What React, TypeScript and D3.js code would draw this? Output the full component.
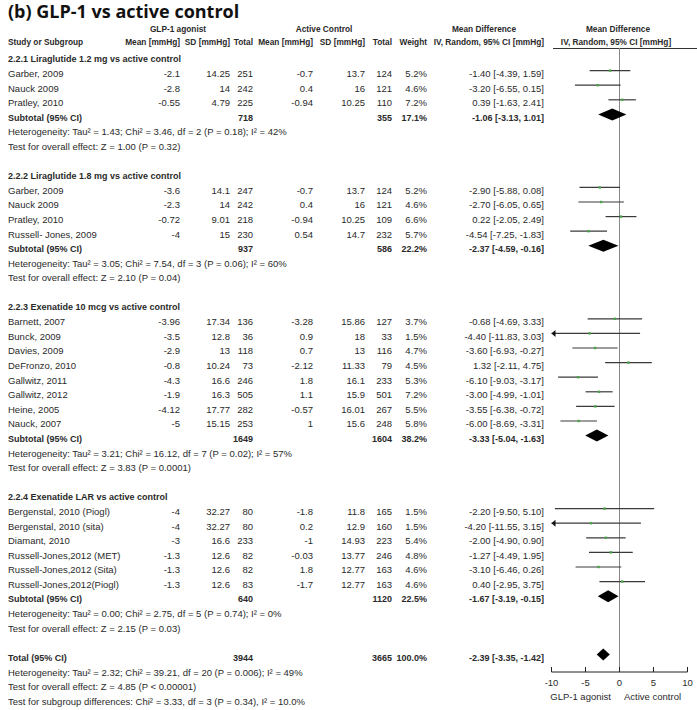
import * as d3 from "d3";
import { useEffect, useRef } from "react";

// study, GLP mean, GLP SD, GLP total, AC mean, AC SD, AC total, weight, MD, lo, hi
type Study = [string, number, number, number, number, number, number, number, number, number, number];

const sectionTitles = [
  "2.2.1 Liraglutide 1.2 mg vs active control",
  "2.2.2 Liraglutide 1.8 mg vs active control",
  "2.2.3 Exenatide 10 mcg vs active control",
  "2.2.4 Exenatide LAR vs active control",
];

const lira12: Study[] = [
  ["Garber, 2009", -2.1, 14.25, 251, -0.7, 13.7, 124, 5.2, -1.4, -4.39, 1.59],
  ["Nauck 2009", -2.8, 14, 242, 0.4, 16, 121, 4.6, -3.2, -6.55, 0.15],
  ["Pratley, 2010", -0.55, 4.79, 225, -0.94, 10.25, 110, 7.2, 0.39, -1.63, 2.41],
];

const lira18: Study[] = [
  ["Garber, 2009", -3.6, 14.1, 247, -0.7, 13.7, 124, 5.2, -2.9, -5.88, 0.08],
  ["Nauck 2009", -2.3, 14, 242, 0.4, 16, 121, 4.6, -2.7, -6.05, 0.65],
  ["Pratley, 2010", -0.72, 9.01, 218, -0.94, 10.25, 109, 6.6, 0.22, -2.05, 2.49],
  ["Russell- Jones, 2009", -4, 15, 230, 0.54, 14.7, 232, 5.7, -4.54, -7.25, -1.83],
];

const exe10: Study[] = [
  ["Barnett, 2007", -3.96, 17.34, 136, -3.28, 15.86, 127, 3.7, -0.68, -4.69, 3.33],
  ["Bunck, 2009", -3.5, 12.8, 36, 0.9, 18, 33, 1.5, -4.4, -11.83, 3.03],
  ["Davies, 2009", -2.9, 13, 118, 0.7, 13, 116, 4.7, -3.6, -6.93, -0.27],
  ["DeFronzo, 2010", -0.8, 10.24, 73, -2.12, 11.33, 79, 4.5, 1.32, -2.11, 4.75],
  ["Gallwitz, 2011", -4.3, 16.6, 246, 1.8, 16.1, 233, 5.3, -6.1, -9.03, -3.17],
  ["Gallwitz, 2012", -1.9, 16.3, 505, 1.1, 15.9, 501, 7.2, -3.0, -4.99, -1.01],
  ["Heine, 2005", -4.12, 17.77, 282, -0.57, 16.01, 267, 5.5, -3.55, -6.38, -0.72],
  ["Nauck, 2007", -5, 15.15, 253, 1, 15.6, 248, 5.8, -6.0, -8.69, -3.31],
];

const exeLar: Study[] = [
  ["Bergenstal, 2010 (Piogl)", -4, 32.27, 80, -1.8, 11.8, 165, 1.5, -2.2, -9.5, 5.1],
  ["Bergenstal, 2010 (sita)", -4, 32.27, 80, 0.2, 12.9, 160, 1.5, -4.2, -11.55, 3.15],
  ["Diamant, 2010", -3, 16.6, 233, -1, 14.93, 223, 5.4, -2.0, -4.9, 0.9],
  ["Russell-Jones,2012 (MET)", -1.3, 12.6, 82, -0.03, 13.77, 246, 4.8, -1.27, -4.49, 1.95],
  ["Russell-Jones,2012 (Sita)", -1.3, 12.6, 82, 1.8, 12.77, 163, 4.6, -3.1, -6.46, 0.26],
  ["Russell-Jones,2012(Piogl)", -1.3, 12.6, 83, -1.7, 12.77, 163, 4.6, 0.4, -2.95, 3.75],
];

const sections = [lira12, lira18, exe10, exeLar];

// GLP total, AC total, weight, MD, lo, hi
const subtotals = [
  [718, 355, 17.1, -1.06, -3.13, 1.01],
  [937, 586, 22.2, -2.37, -4.59, -0.16],
  [1649, 1604, 38.2, -3.33, -5.04, -1.63],
  [640, 1120, 22.5, -1.67, -3.19, -0.15],
];

const heterogeneity = [
  "Heterogeneity: Tau² = 1.43; Chi² = 3.46, df = 2 (P = 0.18); I² = 42%",
  "Heterogeneity: Tau² = 3.05; Chi² = 7.54, df = 3 (P = 0.06); I² = 60%",
  "Heterogeneity: Tau² = 3.21; Chi² = 16.12, df = 7 (P = 0.02); I² = 57%",
  "Heterogeneity: Tau² = 0.00; Chi² = 2.75, df = 5 (P = 0.74); I² = 0%",
];

const overallEffect = [
  "Test for overall effect: Z = 1.00 (P = 0.32)",
  "Test for overall effect: Z = 2.10 (P = 0.04)",
  "Test for overall effect: Z = 3.83 (P = 0.0001)",
  "Test for overall effect: Z = 2.15 (P = 0.03)",
];

const total = [3944, 3665, 100.0, -2.39, -3.35, -1.42];
const totalNotes = [
  "Heterogeneity: Tau² = 2.32; Chi² = 39.21, df = 20 (P = 0.006); I² = 49%",
  "Test for overall effect: Z = 4.85 (P < 0.00001)",
  "Test for subgroup differences: Chi² = 3.33, df = 3 (P = 0.34), I² = 10.0%",
];

const axisTicks = [-10, -5, 0, 5, 10];

const W = 697;
const H = 710;
const FONT = "'Liberation Sans', Arial, sans-serif";
const INK = "#2a2a2a";

export default function App() {
  const ref = useRef<SVGSVGElement>(null);

  useEffect(() => {
    document.body.style.margin = "0";
    const svg = d3.select(ref.current);
    svg.selectAll("*").remove();

    const x = d3.scaleLinear().domain([-10, 10]).range([551.5, 687.5]);
    const rowY = (i: number) => 59 + i * 14.6;
    const cols = [180, 230, 253, 313, 365, 392, 427, 544];
    const lift = 3;

    const txt = (tx: number, ty: number, s: string, anchor = "start", bold = false, size = 9.5) =>
      svg.append("text")
        .attr("x", tx).attr("y", ty)
        .attr("dy", "0.35em")
        .attr("text-anchor", anchor)
        .style("font-family", FONT)
        .style("font-size", size + "px")
        .style("font-weight", bold ? "bold" : "normal")
        .style("fill", INK)
        .text(s);

    // title
    svg.append("text")
      .attr("x", 8).attr("y", 18)
      .style("font-family", "'Open Sans', sans-serif")
      .style("font-size", "18px")
      .style("font-weight", "bold")
      .style("fill", "#111")
      .text("(b) GLP-1 vs active control");

    // headers
    const hs = 8.3;
    txt(178, 29, "GLP-1 agonist", "middle", true, hs);
    txt(324, 29, "Active Control", "middle", true, hs);
    txt(484, 29, "Mean Difference", "middle", true, hs);
    txt(618, 29, "Mean Difference", "middle", true, hs);
    const sub = ["Mean [mmHg]", "SD [mmHg]", "Total", "Mean [mmHg]", "SD [mmHg]", "Total", "Weight", "IV, Random, 95% CI [mmHg]"];
    txt(8, 42, "Study or Subgroup", "start", true, hs);
    sub.forEach((s, i) => txt(cols[i], 42, s, "end", true, hs));
    txt(616, 42, "IV, Random, 95% CI [mmHg]", "middle", true, hs);

    svg.append("line")
      .attr("x1", 553).attr("x2", W)
      .attr("y1", 48.5).attr("y2", 48.5)
      .attr("stroke", "#333").attr("stroke-width", 1);

    // zero line
    svg.append("line")
      .attr("x1", x(0)).attr("x2", x(0))
      .attr("y1", 48).attr("y2", 672)
      .attr("stroke", "#888").attr("stroke-width", 1);

    const ciText = (md: number, lo: number, hi: number) =>
      `${md.toFixed(2)} [${lo.toFixed(2)}, ${hi.toFixed(2)}]`;

    const diamond = (y: number, md: number, lo: number, hi: number) =>
      svg.append("path")
        .attr("d", `M${x(lo)},${y} L${x(md)},${y - 6} L${x(hi)},${y} L${x(md)},${y + 6} Z`)
        .attr("fill", "#000");

    let row = 0;
    sections.forEach((studies, si) => {
      txt(8, rowY(row), sectionTitles[si], "start", true, 9);
      row++;
      studies.forEach((d) => {
        const y = rowY(row);
        txt(8, y, d[0]);
        for (let k = 1; k <= 6; k++) txt(cols[k - 1], y, String(d[k]), "end");
        txt(cols[6], y, d[7].toFixed(1) + "%", "end");
        txt(cols[7], y, ciText(d[8], d[9], d[10]), "end");

        const ly = y - lift;
        const lo = Math.max(d[9], -10);
        const hi = Math.min(d[10], 10);
        svg.append("line")
          .attr("x1", x(lo)).attr("x2", x(hi))
          .attr("y1", ly).attr("y2", ly)
          .attr("stroke", "#3a3a3a").attr("stroke-width", 1.2);
        if (d[9] < -10) {
          svg.append("path")
            .attr("d", `M${x(-10)},${ly} l4,-3.5 l0,7 Z`)
            .attr("fill", "#111");
        }
        svg.append("rect")
          .attr("x", x(d[8]) - 1.2).attr("y", ly - 1.2)
          .attr("width", 2.4).attr("height", 2.4)
          .attr("fill", "#4aa34a");
        row++;
      });
      const st = subtotals[si];
      const y = rowY(row);
      txt(8, y, "Subtotal (95% CI)", "start", true, 9);
      txt(cols[2], y, String(st[0]), "end", true, 9);
      txt(cols[5], y, String(st[1]), "end", true, 9);
      txt(cols[6], y, st[2].toFixed(1) + "%", "end", true, 9);
      txt(cols[7], y, ciText(st[3], st[4], st[5]), "end", true, 9);
      diamond(y - lift, st[3], st[4], st[5]);
      row++;
      txt(8, rowY(row), heterogeneity[si]);
      row++;
      txt(8, rowY(row), overallEffect[si]);
      row += 2;
    });

    // total
    const ty = rowY(row);
    txt(8, ty, "Total (95% CI)", "start", true, 9);
    txt(cols[2], ty, String(total[0]), "end", true, 9);
    txt(cols[5], ty, String(total[1]), "end", true, 9);
    txt(cols[6], ty, total[2].toFixed(1) + "%", "end", true, 9);
    txt(cols[7], ty, ciText(total[3], total[4], total[5]), "end", true, 9);
    diamond(ty - lift, total[3], total[4], total[5]);
    row++;
    totalNotes.forEach((s) => {
      txt(8, rowY(row), s);
      row++;
    });

    // axis
    const ay = 672;
    const ax = svg.append("g").attr("transform", `translate(0,${ay})`);
    ax.append("line")
      .attr("x1", x(-10)).attr("x2", x(10))
      .attr("stroke", "#222").attr("stroke-width", 1);
    ax.selectAll(".tick")
      .data(axisTicks)
      .enter()
      .append("line")
      .attr("x1", (d) => x(d)).attr("x2", (d) => x(d))
      .attr("y1", -5).attr("y2", 0)
      .attr("stroke", "#222");
    axisTicks.forEach((t) => txt(x(t), ay + 11, String(t), "middle", false, 9.5));
    txt(611, ay + 25, "GLP-1 agonist", "end", false, 9.5);
    txt(624, ay + 25, "Active control", "start", false, 9.5);
  }, []);

  return <svg ref={ref} width={W} height={H} style={{ display: "block", background: "#fff" }} />;
}
